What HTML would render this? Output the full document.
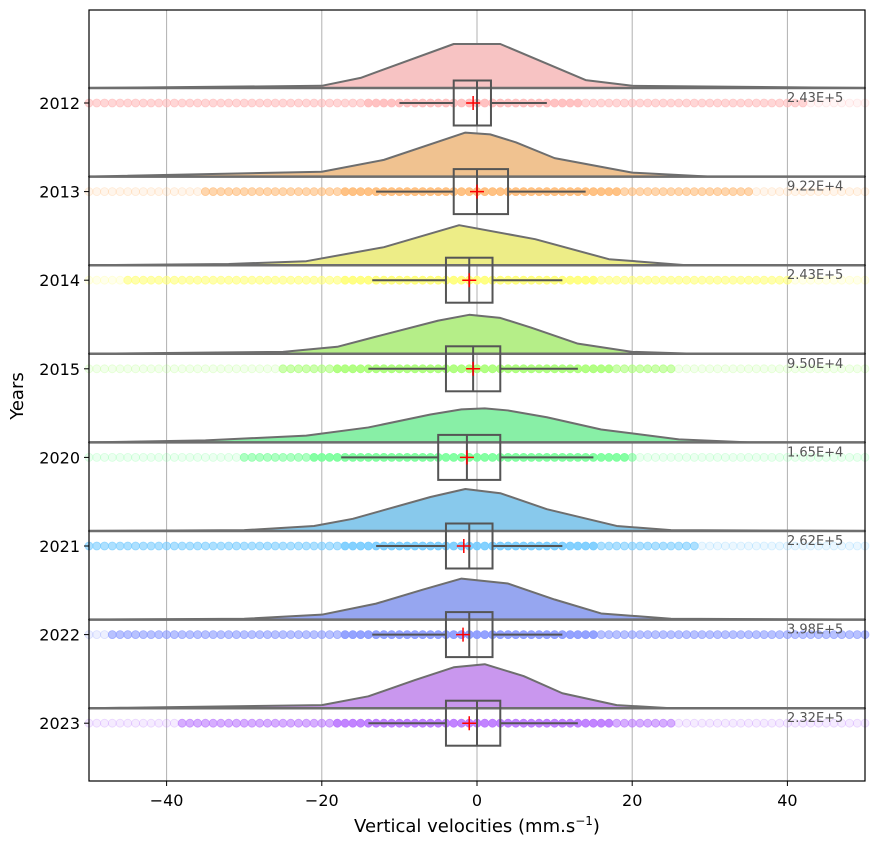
<!DOCTYPE html>
<html><head><meta charset="utf-8"><style>
body{margin:0;background:#fff;}
svg{display:block;font-family:"DejaVu Sans","Liberation Sans",sans-serif;}
</style></head><body>
<svg id="chart" width="875" height="844">
<rect x="0" y="0" width="875" height="844" fill="#fff"/>
<g id="grid"></g><g id="rows"></g><g id="axes"></g>
</svg>
<script>
const years=["2012","2013","2014","2015","2020","2021","2022","2023"];
const counts=["2.43E+5","9.22E+4","2.43E+5","9.50E+4","1.65E+4","2.62E+5","3.98E+5","2.32E+5"];
const kdeX=[
[-50,-20,-15,-3,3,14,20,50],
[-50,-20,-12,-1.5,1.7,5,10,20,30,50],
[-50,-32,-22,-12,-2.3,7.5,17,27,50],
[-50,-25,-18,-13,-5,-1,3,7,13,20,28,50],
[-50,-35,-22,-14,-6,-2,1,4,9,16,26,35,50],
[-50,-30,-21,-16,-6,-1.5,3,9,18,25,50],
[-50,-30,-20,-13,-7,-2,4,10,16,25,50],
[-50,-20,-14,-8,-3,1,6,11,18,25,50]];
const kdeY=[
[0,0.05,0.23,1,1,0.18,0.05,0],
[0,0.11,0.38,1,0.96,0.78,0.42,0.09,0,0],
[0,0.03,0.1,0.45,1,0.65,0.15,0,0],
[0,0.05,0.18,0.44,0.85,1,0.92,0.67,0.26,0.05,0,0],
[0,0.06,0.2,0.44,0.82,0.97,1,0.94,0.74,0.38,0.09,0,0],
[0,0.02,0.12,0.29,0.81,1,0.9,0.52,0.12,0.02,0],
[0,0.02,0.12,0.39,0.73,1,0.88,0.49,0.15,0.02,0],
[0,0.07,0.27,0.64,0.93,1,0.73,0.34,0.07,0,0]];
const peakH=[44,44,40,39,34,42,41,44];
const q1=[-3,-3,-4,-4,-5,-4,-4,-4];
const med=[0,0,-1,-0.5,-1.3,-1,-1,0];
const q3=[1.8,4,2,3,3,2,2,3];
const wLo=[-10,-13,-13.5,-14,-17.5,-13,-13.5,-14];
const wHi=[9,14,11,13,15,11,11,13];
const means=[-0.5,0,-1,-0.5,-1.3,-1.7,-1.8,-1];
const dotLo=[-50,-35,-45,-25,-30,-50,-47,-38];
const dotHi=[42,35,40,25,20,28,50,25];
const fills=["#f7c3c3","#f0c290","#eded87","#b5ee88","#88efa6","#88c9ec","#96a6f0","#c997ee"];
const dotCols=["#ffbbbb","#ffbb77","#ffff77","#aaff77","#77ff99","#77ccff","#8899ff","#bb77ff"];
const xTicks=[-40,-20,0,20,40];

const NS="http://www.w3.org/2000/svg";
const L=89,R=865,T=10,B=781;
const xs=v=>L+(v+50)*(R-L)/100;
const rowY=i=>103+i*88.6;
function mk(tag,attrs,parent){const e=document.createElementNS(NS,tag);for(const k in attrs)e.setAttribute(k,attrs[k]);parent.appendChild(e);return e;}
const grid=document.getElementById('grid'),rows=document.getElementById('rows'),axes=document.getElementById('axes');
xTicks.forEach(t=>{const g=mk('line',{x1:xs(t),x2:xs(t),y1:T,y2:B,stroke:'#b0b0b0','stroke-width':1},grid);

});
years.forEach((yr,i)=>{
 const cy=rowY(i),base=cy-15;
 const g=mk('g',{},rows);
 
 
 let d='M'+xs(kdeX[i][0])+','+base;
 kdeX[i].forEach((x,j)=>{d+=' L'+xs(x)+','+(base-kdeY[i][j]*peakH[i]);});
 d+=' L'+xs(kdeX[i][kdeX[i].length-1])+','+base+' Z';
 const k=mk('path',{d:d,fill:fills[i],stroke:'#6e6e6e','stroke-width':2,'stroke-linejoin':'round'},g);
 
 
 const bl=mk('line',{x1:L,x2:R,y1:base,y2:base,stroke:'#6e6e6e','stroke-width':2.5},g);
 
 
 for(let v=-50;v<=50;v+=1){
  let a=(v>=dotLo[i]&&v<=dotHi[i])?0.6:0.15;
  if(v>=wLo[i]-4&&v<=wHi[i]+4)a=0.9;
  const c=mk('circle',{cx:xs(v),cy:cy,r:4,fill:dotCols[i],'fill-opacity':a,stroke:dotCols[i],'stroke-opacity':Math.min(1,a+0.1),'stroke-width':0.8},g);
  
  
 }
 const w1=mk('line',{x1:xs(wLo[i]),x2:xs(q1[i]),y1:cy,y2:cy,stroke:'#555','stroke-width':2},g);
 
 
 const w2=mk('line',{x1:xs(q3[i]),x2:xs(wHi[i]),y1:cy,y2:cy,stroke:'#555','stroke-width':2},g);
 
 
 const bx=mk('rect',{x:xs(q1[i]),y:cy-22.5,width:xs(q3[i])-xs(q1[i]),height:45,fill:'none',stroke:'#555','stroke-width':2},g);
 
 
 const md=mk('line',{x1:xs(med[i]),x2:xs(med[i]),y1:cy-22.5,y2:cy+22.5,stroke:'#555','stroke-width':2},g);
 
 
 const mx=xs(means[i]);
 const mp=mk('path',{d:`M${mx-7},${cy} H${mx+7} M${mx},${cy-7} V${cy+7}`,stroke:'#ff0000','stroke-width':1.5},g);
 
 
 const ct=mk('text',{x:787,y:cy-1,'font-size':13,fill:'#555'},g);ct.textContent=counts[i];
 
 
 const tk=mk('line',{x1:L-5,x2:L,y1:cy,y2:cy,stroke:'#000','stroke-width':1},axes);
 
 
 const yl=mk('text',{x:L-9,y:cy+6,'font-size':16,'text-anchor':'end',fill:'#000'},axes);yl.textContent=yr;
 
 
});
const fr=mk('rect',{x:L,y:T,width:R-L,height:B-T,fill:'none',stroke:'#000','stroke-width':1.2},axes);


xTicks.forEach(t=>{
 const tk=mk('line',{x1:xs(t),x2:xs(t),y1:B,y2:B+5,stroke:'#000','stroke-width':1},axes);
 
 
 const tl=mk('text',{x:xs(t),y:B+25,'font-size':16,'text-anchor':'middle',fill:'#000'},axes);
 tl.textContent=(t<0?'\u2212':'')+Math.abs(t);
 
 
});
</script>
<svg style="position:absolute;left:0;top:0" width="875" height="844">
<text x="477" y="832" font-size="18" text-anchor="middle" font-family="DejaVu Sans, sans-serif">Vertical velocities (mm.s<tspan font-size="12" dy="-7">−1</tspan><tspan dy="7">)</tspan></text>
<text transform="translate(23,396) rotate(-90)" font-size="18" text-anchor="middle" font-family="DejaVu Sans, sans-serif">Years</text>
</svg>
</body></html>
